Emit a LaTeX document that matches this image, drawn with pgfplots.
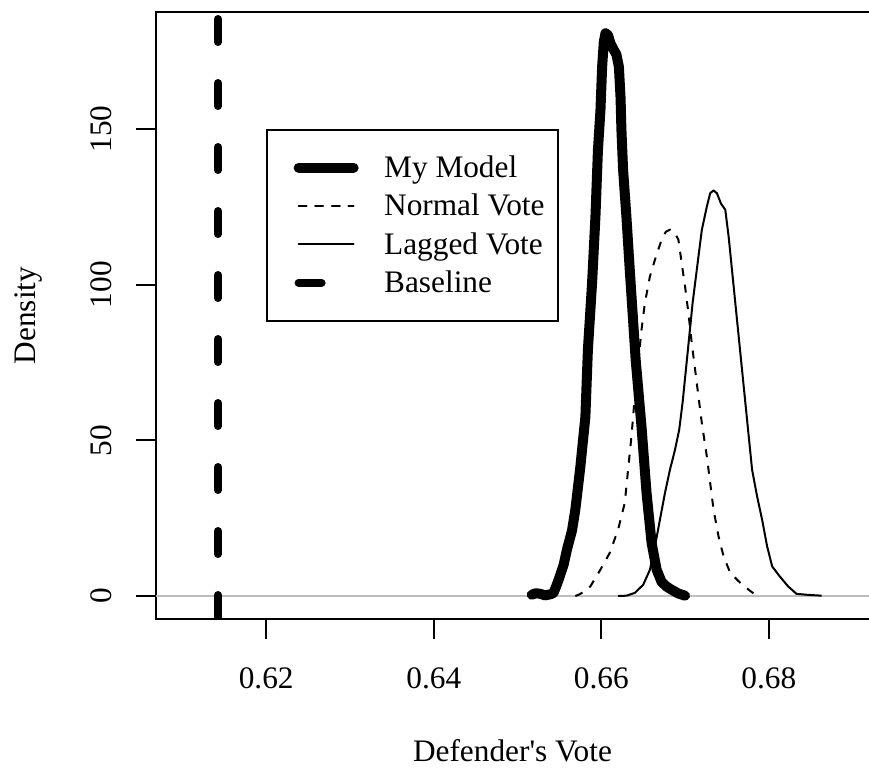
\documentclass[border=0pt]{standalone}
\usepackage{pgfplots}
\pgfplotsset{compat=1.18}
\usepackage{fontspec}
\setmainfont{Liberation Serif}
\newfontfamily\rawserif{Liberation Serif}
\usepackage{graphicx}
\definecolor{rgray}{RGB}{190,190,190}
\begin{document}
\begin{tikzpicture}
\useasboundingbox (0,0) rectangle (434.5bp,384bp);
\begin{axis}[
 name=ax,
 at={(78bp,74.5bp)}, anchor=south west,
 scale only axis, width=356.5bp, height=303.5bp,
 xmin=0.60684, xmax=0.69196, ymin=-7.39, ymax=187.62,
 axis x line*=bottom, axis y line*=left,
 axis line style={line width=1bp, -, line cap=rect},
 every tick/.style={line width=1bp, black},
 tick align=outside, major tick length=10bp,
 xtick={0.62,0.64,0.66,0.68}, xticklabels={0.62,0.64,0.66,0.68},
 ytick={0,50,100,150},
 yticklabels={\rotatebox{90}{0},\rotatebox{90}{50},\rotatebox{90}{100},\rotatebox{90}{150}},
 minor tick num=0,
 font=\fontsize{15.65bp}{18.78bp}\selectfont,
 xticklabel style={anchor=north, inner sep=0pt, yshift=-14bp},
 yticklabel style={anchor=east, inner sep=0pt, xshift=-12bp},
 xlabel={{\rawserif Defender's Vote}}, ylabel={Density},
 x label style={at={(axis description cs:0.5,-0.23558)}, anchor=base, inner sep=0pt},
 y label style={at={(axis description cs:-0.16830,0.5)}, anchor=base, inner sep=0pt},
 legend style={at={(axis description cs:0.1543,0.8068)}, anchor=north west, draw=black, line width=1bp,
   inner xsep=7bp, inner ysep=9.37bp, row sep=0pt,
   nodes={inner sep=0pt, text height=14.33bp, text depth=4.83bp},
   font=\fontsize{15.65bp}{18.78bp}\selectfont},
 legend cell align=left,
 legend image code/.code={
   \path[draw=none, fill=none] (-5.8bp,-9.58bp) rectangle (45.8bp,9.58bp);
   \draw[line cap=round,#1] (3bp,0.25bp) -- (30.5bp,0.25bp);
 },
]
% zero line
\addplot[rgray, line width=0.6bp, forget plot] coordinates {(0.60684,0) (0.69196,0)};
% My Model
\addplot[black, line width=5bp, line join=round, line cap=round, forget plot] coordinates {
(0.6517,0.4) (0.6522,0.9) (0.6527,0.7) (0.6533,0.2) (0.6540,0.6) (0.6543,1.0) (0.6546,3) (0.6549,5.2)
(0.6555,10) (0.6559,14.9) (0.6565,21) (0.6569,27.7) (0.6575,41.5) (0.6581,57.6) (0.6584,79.1)
(0.6589,100.6) (0.6593,121.8) (0.6596,143.3) (0.6599,156.1) (0.6601,170) (0.6603,178)
(0.6605,180.8) (0.6608,180.2) (0.6611,177.5) (0.6615,175.4) (0.6618,174) (0.6621,170) (0.6623,160)
(0.6624,150) (0.6626,137) (0.6630,121.8) (0.6634,104.7) (0.6641,76) (0.6648,54.4) (0.6654,33.2)
(0.6660,17.1) (0.6666,8.5) (0.6672,4.5) (0.6678,3.0) (0.6684,2.0) (0.6692,0.8) (0.6700,0.1)
};
% Normal Vote
\addplot[black, line width=1bp, line join=round, dash pattern=on 4bp off 4.3bp, forget plot] coordinates {
(0.6569,0) (0.6573,0.4) (0.6580,1.5) (0.6587,3.1) (0.6599,8.5) (0.6610,13.8) (0.6620,21.3)
(0.6628,29.9) (0.6632,40.6) (0.6636,51.3) (0.6640,64.1) (0.6644,74.9) (0.6648,85.5) (0.6652,94.1)
(0.6658,102.6) (0.6664,108) (0.6672,114.5) (0.6677,117) (0.6682,117.7) (0.6687,117) (0.6692,114.5) (0.6696,106.9)
(0.6700,99.4) (0.6704,90.9) (0.6708,81.2) (0.6712,72.7) (0.6716,64.1) (0.6720,55.6) (0.6726,44.8)
(0.6730,36.3) (0.6734,27.7) (0.6740,19.1) (0.6746,12.7) (0.6754,7.4) (0.6766,4.2) (0.6776,2.0)
(0.6784,0.4)
};
% Lagged Vote
\addplot[black, line width=1bp, line join=round, forget plot] coordinates {
(0.6620,0) (0.6630,0.1) (0.6640,1.0) (0.6650,3.6) (0.6658,8.4) (0.6664,15.9) (0.6670,24.5)
(0.6676,33.1) (0.6682,40.6) (0.6688,47.0) (0.6693,53.4) (0.6697,62.0) (0.6701,72.7) (0.6705,83.4)
(0.6709,94.1) (0.6714,104.8) (0.6720,117.6) (0.6726,125.1) (0.6730,129.4) (0.6734,130.3)
(0.6738,129.4) (0.6743,126) (0.6748,124.1) (0.6752,115.5) (0.6756,104.8) (0.6760,94.1) (0.6764,83.4)
(0.6768,72.7) (0.6772,62.0) (0.6776,51.3) (0.6780,40.6) (0.6786,32.0) (0.6792,24.5) (0.6798,15.9)
(0.6804,9.5) (0.6813,6.3) (0.6823,3.1) (0.6833,0.7) (0.6845,0.4) (0.6863,0.1)
};
% Baseline
\addplot[black, line width=4bp, line cap=round, dash pattern=on 11.5bp off 20.5bp, dash phase=28.5bp, forget plot]
 coordinates {(0.61424,187.62) (0.61424,-7.39)};
\addlegendimage{black, line width=5bp}
\addlegendentry{My Model}
\addlegendimage{black, line width=1bp, dash pattern=on 4bp off 4.3bp}
\addlegendentry{Normal Vote}
\addlegendimage{black, line width=1bp}
\addlegendentry{Lagged Vote}
\addlegendimage{black, line width=4bp, dash pattern=on 11.5bp off 20.5bp}
\addlegendentry{Baseline}
\end{axis}
\draw[line width=1bp, line cap=rect] (ax.north west) -- (ax.north east);
\end{tikzpicture}
\end{document}
